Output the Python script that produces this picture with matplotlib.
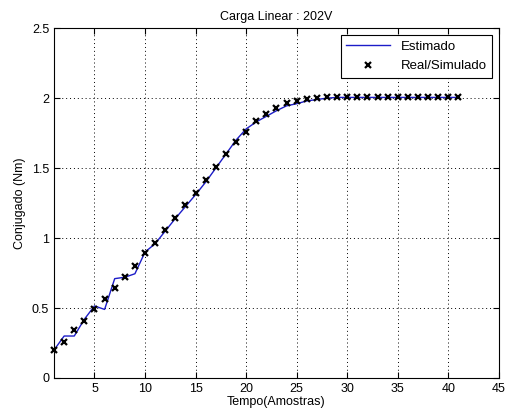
import numpy as np
import matplotlib
matplotlib.use('Agg')
import matplotlib.pyplot as plt

plt.rcParams['font.family'] = ['Liberation Sans', 'DejaVu Sans']

amostras = list(range(1, 42))

real_simulado = [0.20, 0.26, 0.34, 0.41, 0.49, 0.565, 0.64, 0.72, 0.80, 0.89,
                 0.965, 1.06, 1.145, 1.235, 1.32, 1.415, 1.51, 1.60, 1.685, 1.76,
                 1.84, 1.885, 1.93, 1.965, 1.98, 1.993, 2.0, 2.005, 2.005, 2.005,
                 2.005, 2.005, 2.005, 2.005, 2.005, 2.005, 2.005, 2.005, 2.005, 2.005,
                 2.005]

estimado = [0.20, 0.30, 0.30, 0.42, 0.515, 0.49, 0.71, 0.72, 0.745, 0.90,
            0.96, 1.05, 1.14, 1.225, 1.31, 1.40, 1.50, 1.60, 1.70, 1.78,
            1.83, 1.87, 1.91, 1.945, 1.96, 1.98, 1.99, 2.0, 2.005, 2.005,
            2.005, 2.005, 2.005, 2.005, 2.005, 2.005, 2.005, 2.005, 2.005, 2.005,
            2.005]

fig = plt.figure(figsize=(5.05, 4.20), dpi=100)
ax = fig.add_axes([0.107, 0.10, 0.881, 0.833])

ax.plot(amostras, estimado, color='#1c1cc8', linewidth=1.0, label='Estimado')
ax.plot(amostras, real_simulado, linestyle='none', marker='x', color='black',
        markersize=4.5, markeredgewidth=1.6, label='Real/Simulado', clip_on=False)

ax.set_xlim(1, 45)
ax.set_ylim(0, 2.5)
ax.set_xticks([5, 10, 15, 20, 25, 30, 35, 40, 45])
ax.set_yticks([0, 0.5, 1, 1.5, 2, 2.5])
ax.set_yticklabels(['0', '0.5', '1', '1.5', '2', '2.5'])
ax.grid(True, linestyle=(0, (1, 3)), color='black', linewidth=0.7)
ax.tick_params(direction='in', labelsize=9, top=True, right=True, length=4)
for s in ax.spines.values():
    s.set_linewidth(0.8)

ax.set_title('Carga Linear : 202V', fontsize=9)
ax.set_xlabel('Tempo(Amostras)', fontsize=9, labelpad=1)
ax.set_ylabel('Conjugado (Nm)', fontsize=9)

leg = ax.legend(loc='upper right', fontsize=9.5, fancybox=False, framealpha=1,
                edgecolor='black', borderaxespad=0.55, handlelength=3.3,
                labelspacing=0.55)
leg.get_frame().set_linewidth(0.8)

fig.savefig('out.png', dpi=100, facecolor='white')
